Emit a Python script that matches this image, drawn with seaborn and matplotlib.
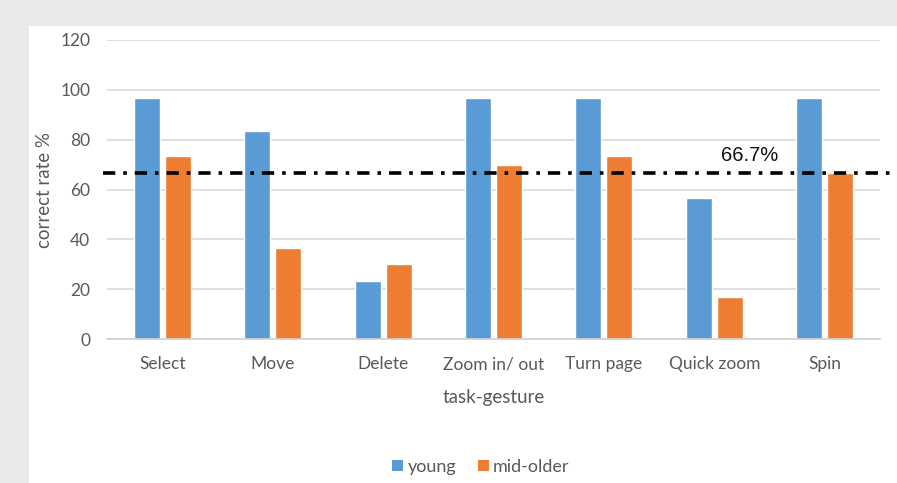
import matplotlib
matplotlib.use("Agg")
import matplotlib.pyplot as plt
from matplotlib.patches import Rectangle, Patch
import seaborn as sns
import pandas as pd

# Gesture task categories and correct-rate (%) per age group
tasks = ["Select", "Move", "Delete", "Zoom in/ out", "Turn page", "Quick zoom", "Spin"]
young = [96.7, 83.3, 23.3, 96.7, 96.7, 56.7, 96.7]
mid_older = [73.3, 36.7, 30.0, 70.0, 73.3, 16.7, 66.7]
groups = ["young", "mid-older"]
threshold = 66.7
y_ticks = [0, 20, 40, 60, 80, 100, 120]

df = pd.DataFrame({
    "task": tasks * 2,
    "rate": young + mid_older,
    "group": [groups[0]] * len(tasks) + [groups[1]] * len(tasks),
})

sns.set_theme(style="white")
plt.rcParams["font.family"] = ["Lato", "DejaVu Sans"]

W, H = 897, 483
fig = plt.figure(figsize=(W / 100, H / 100), dpi=100, facecolor="#e9e9e7")
# white page panel behind the chart
fig.patches.append(Rectangle((29 / W, 0), 1 - 29 / W, 1 - 26 / H,
                             transform=fig.transFigure, facecolor="white",
                             edgecolor="none", zorder=-5))

ax = fig.add_axes([107 / W, (H - 339) / H, (880 - 107) / W, (339 - 40) / H])
ax.set_facecolor("none")
ax.set_zorder(1)

palette = {"young": "#5b9bd5", "mid-older": "#ed7d31"}
sns.barplot(data=df, x="task", y="rate", hue="group", order=tasks,
            hue_order=groups, palette=palette, width=0.56, gap=0.16,
            saturation=1, errorbar=None, legend=False, ax=ax, zorder=2)

ax.set_ylim(0, 120)
ax.set_yticks(y_ticks)
ax.set_xlim(-0.5, len(tasks) - 0.5)
ax.yaxis.grid(True, color="#d9d9d9", linewidth=1.2, zorder=0)
ax.set_axisbelow(True)
for s in ["left", "right", "top"]:
    ax.spines[s].set_visible(False)
ax.spines["bottom"].set_color("#d0d0d0")
ax.spines["bottom"].set_linewidth(1.2)

ax.tick_params(axis="both", length=0, labelcolor="#595959")
ax.tick_params(axis="x", pad=12.5, labelsize=12.5)
ax.tick_params(axis="y", pad=12, labelsize=12.5)

ax.set_xlabel("task-gesture", fontsize=13.5, color="#595959", labelpad=12)
ax.set_ylabel("correct rate %", fontsize=13.5, color="#595959", labelpad=5)

# threshold line extends to the page edge
ax.axhline(threshold, xmin=-0.005, xmax=(W - 107) / (880 - 107),
           color="black", linewidth=2.6, linestyle=(0, (3.4, 2.2, 1.0, 2.2)),
           clip_on=False, zorder=3)
ax.text(5.32, threshold + 3.0, f"{threshold}%", fontsize=14.5,
        family=["Liberation Sans", "DejaVu Sans"], color="#111111",
        ha="center", va="bottom", zorder=4)

handles = [Patch(facecolor=palette[g], edgecolor="none") for g in groups]
fig.legend(handles, groups, loc="center", bbox_to_anchor=(481 / W, 1 - 467 / H),
           ncol=2, frameon=False, fontsize=13, handlelength=0.6,
           handleheight=0.6, handletextpad=0.25, columnspacing=1.2,
           labelcolor="#595959")

fig.savefig("out.png", dpi=100, facecolor=fig.get_facecolor())
